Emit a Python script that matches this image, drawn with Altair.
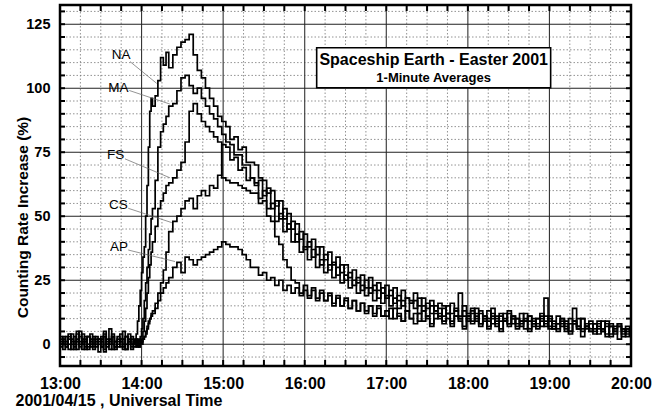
import altair as alt
import pandas as pd

# ---- time grid (minutes after 13:00 UT) ----
minutes = [
    0, 2, 4, 6, 8, 10, 12, 14, 16, 18, 20, 22, 24, 26, 28, 30, 32, 34, 36, 38, 40, 42, 44, 46, 48, 50, 52, 54,
    55, 56, 57, 58, 59, 60, 61, 62, 63, 64, 65, 66, 67, 68, 70, 72, 74, 76, 78, 80,
    83, 86, 89, 92, 95, 98, 101, 104, 107, 110, 113, 116, 119, 122, 125, 128, 131, 134, 137, 140,
    143, 146, 149, 152, 155, 158, 161, 164, 167, 170, 173, 176, 179, 182, 185, 188, 191, 194, 197, 200,
    203, 206, 209, 212, 215, 218, 221, 224, 227, 230, 233, 236,
    239, 242, 245, 248, 251, 254, 257, 260, 263, 266, 269, 272, 275, 278, 281, 284, 287, 290, 293, 296,
    299, 302, 305, 308, 311, 314, 317, 320, 323, 326, 329, 332, 335, 338, 341, 344, 347, 350, 353, 356,
    359, 362, 365, 368, 371, 374, 377, 380, 383, 386, 389, 392, 395, 398, 401, 404, 407, 410, 413, 416,
    419,
]

# ---- counting rate increase (%) for each station ----
NA = [
    1, -2, 3, 0, 4, -1, 2, 5, -2, 1, 3, -1, 2, 0, -3, 2, 4, -1, 1, 3, -2, 0, 2, -1, 3, 1, -2, 1,
    0, 4, 9, 15, 21, 28, 34, 38, 50, 62, 77, 91, 96, 93, 97, 103, 112, 109, 114, 108,
    113, 116, 118, 119, 121, 113, 107, 104, 100, 96, 93, 89, 87, 85, 80, 81, 76, 77, 71, 71,
    70, 65, 64, 59, 60, 54, 56, 49, 51, 45, 47, 41, 43, 38, 41, 35, 38, 33, 36, 31,
    34, 28, 31, 26, 29, 24, 27, 22, 26, 21, 24, 20,
    23, 19, 22, 17, 21, 18, 16, 20, 15, 18, 14, 17, 13, 16, 15, 12, 16, 13, 11, 15,
    12, 14, 10, 13, 11, 9, 14, 10, 12, 9, 13, 10, 8, 12, 9, 11, 7, 10, 12, 8,
    10, 7, 11, 8, 6, 10, 9, 6, 10, 7, 9, 5, 8, 6, 9, 4, 7, 8, 5, 7,
    5,
]
MA = [
    -1, 2, 0, 4, 1, 3, -2, 1, 4, -1, 0, 2, -2, 3, 1, -1, 5, 0, 2, -2, 1, 3, -1, 2, 0, 4, -1, 0,
    1, -1, 2, 1, 3, 6, 10, 17, 24, 30, 37, 43, 49, 53, 64, 77, 83, 86, 89, 93,
    94, 99, 104, 105, 101, 98, 100, 96, 93, 90, 88, 85, 82, 79, 78, 74, 74, 70, 70, 65,
    62, 64, 58, 61, 53, 56, 49, 53, 45, 48, 40, 44, 37, 40, 34, 38, 31, 35, 29, 32,
    27, 31, 25, 28, 23, 26, 21, 25, 20, 23, 18, 22,
    18, 21, 16, 19, 15, 18, 17, 14, 18, 13, 16, 12, 15, 14, 11, 15, 12, 14, 10, 13,
    11, 13, 9, 12, 10, 13, 8, 11, 9, 12, 8, 11, 10, 7, 12, 9, 10, 6, 9, 11,
    7, 9, 6, 10, 8, 5, 9, 7, 10, 6, 8, 6, 9, 5, 7, 8, 4, 7, 6, 3,
    6,
]
FS = [
    2, 0, -1, 3, -2, 1, 4, 0, 2, -2, 3, 1, -1, 2, 0, 3, -2, 1, 6, 0, -1, 2, 1, -2, 3, 0, 2, -1,
    -1, 1, 0, -1, 1, 2, 5, 9, 14, 20, 26, 31, 36, 40, 46, 53, 56, 59, 62, 63,
    65, 68, 71, 79, 91, 94, 90, 87, 85, 83, 81, 79, 65, 64, 63, 63, 62, 61, 60, 59,
    59, 55, 56, 50, 48, 42, 39, 33, 30, 25, 24, 20, 23, 19, 22, 18, 21, 17, 20, 16,
    19, 15, 18, 14, 17, 13, 16, 12, 15, 11, 14, 11,
    13, 10, 14, 11, 9, 13, 10, 12, 9, 13, 10, 8, 12, 11, 9, 12, 8, 11, 10, 7,
    11, 9, 12, 8, 10, 7, 11, 9, 6, 10, 8, 11, 7, 9, 10, 6, 9, 8, 11, 7,
    9, 6, 8, 10, 5, 8, 14, 7, 5, 8, 6, 4, 7, 5, 8, 3, 6, 7, 4, 6,
    3,
]
CS = [
    0, 3, 1, -2, 2, 0, 5, -1, 1, 3, -2, 4, 0, 1, 2, -1, 3, 0, -2, 4, 1, -1, 2, 5, -2, 1, 3, 0,
    0, 2, -1, 0, 1, 0, 2, 3, 5, 7, 9, 10, 12, 13, 16, 20, 24, 29, 36, 44,
    48, 50, 53, 56, 57, 53, 58, 60, 58, 62, 61, 66, 78, 77, 72, 73, 68, 69, 64, 65,
    63, 57, 60, 53, 55, 48, 51, 44, 47, 40, 43, 36, 38, 33, 37, 30, 33, 28, 31, 26,
    30, 24, 27, 22, 25, 20, 23, 19, 22, 17, 21, 16,
    19, 15, 18, 14, 17, 13, 16, 17, 12, 15, 11, 15, 13, 10, 14, 12, 9, 13, 20, 11,
    9, 12, 14, 8, 11, 10, 12, 7, 11, 9, 12, 8, 10, 9, 6, 11, 8, 10, 7, 9,
    11, 6, 8, 7, 9, 5, 8, 10, 6, 7, 5, 8, 6, 9, 4, 7, 5, 8, 3, 6,
    4,
]
AP = [
    3, 1, -1, 2, 0, -2, 1, 3, 0, 2, -1, 0, 3, -1, 2, 1, -3, 2, 0, 3, -1, 1, 4, 0, -2, 2, 0, 1,
    2, 0, 1, -1, 0, 1, 2, 3, 4, 6, 8, 10, 11, 12, 14, 17, 20, 22, 24, 26,
    30, 32, 28, 34, 33, 31, 33, 34, 35, 36, 37, 38, 40, 39, 38, 38, 37, 35, 33, 30,
    30, 27, 28, 25, 26, 23, 25, 21, 23, 20, 22, 19, 21, 18, 21, 17, 20, 17, 19, 15,
    18, 15, 17, 14, 17, 13, 16, 13, 15, 12, 15, 11,
    11, 14, 10, 12, 9, 13, 10, 8, 12, 9, 11, 7, 10, 12, 8, 10, 7, 11, 9, 6,
    10, 8, 11, 7, 9, 6, 10, 8, 5, 9, 7, 10, 6, 8, 9, 5, 8, 7, 10, 18,
    6, 8, 5, 9, 7, 4, 8, 6, 3, 7, 5, 8, 4, 6, 3, 7, 5, 2, 6, 4,
    3,
]

series_names = ["NA", "MA", "FS", "CS", "AP"]

# station labels and their leader lines (data coordinates)
label_t = [44.9, 42.9, 41.0, 42.9, 43.4]
label_v = [113.0, 100.0, 73.9, 54.4, 38.1]
leader_t1 = [51.5, 51.0, 47.8, 50.2, 50.2]
leader_v1 = [110.4, 99.1, 72.4, 53.1, 36.8]
leader_t2 = [71.1, 80.9, 80.9, 82.2, 84.6]
leader_v2 = [101.9, 93.8, 65.0, 47.5, 32.3]

# annotation box
box_t = [188.8, 360.9]
box_v = [100.2, 115.8]
box_lines = ["Spaceship Earth - Easter 2001", "1-Minute Averages"]
box_line_v = [109.1, 102.6]
box_line_size = [16, 13]

# axes
hour_ticks = [0, 60, 120, 180, 240, 300, 360, 420]
quarter_ticks = [0, 15, 30, 45, 60, 75, 90, 105, 120, 135, 150, 165, 180, 195, 210, 225, 240,
                 255, 270, 285, 300, 315, 330, 345, 360, 375, 390, 405, 420]
major_y = [0, 25, 50, 75, 100, 125]
five_y = [-5, 0, 5, 10, 15, 20, 25, 30, 35, 40, 45, 50, 55, 60, 65, 70, 75, 80, 85, 90, 95,
          100, 105, 110, 115, 120, 125, 130]

minor_x = [t for t in quarter_ticks if t not in hour_ticks]
minor_y = [v for v in five_y if v not in major_y]

rows = []
for name, vals in zip(series_names, [NA, MA, FS, CS, AP]):
    for t, v in zip(minutes, vals):
        rows.append({"t": t, "v": v, "series": name})
curves_df = pd.DataFrame(rows)

FONT = "Liberation Sans"
W, H = 571, 361
xs = alt.Scale(domain=[0, 420], nice=False, zero=False)
ys = alt.Scale(domain=[-8.5, 132.5], nice=False, zero=False)

x_axis = alt.Axis(
    values=hour_ticks,
    labelExpr="(13 + datum.value / 60) + ':00'",
    grid=False, ticks=False, domain=False,
    labelFont=FONT, labelFontSize=16, labelFontWeight="bold", labelColor="black",
    labelPadding=9, labelFlush=False, labelOverlap=False,
    title="2001/04/15 , Universal Time",
    titleFont=FONT, titleFontSize=16, titleFontWeight="bold", titleColor="black",
    titleX=-45, titleY=39, titleAlign="left", titleBaseline="alphabetic", titleAnchor="start",
)
y_axis = alt.Axis(
    values=major_y,
    grid=False, ticks=False, domain=False,
    labelFont=FONT, labelFontSize=14.5, labelFontWeight="bold", labelColor="black",
    labelPadding=10, labelFlush=False, labelOverlap=False,
    title="Counting Rate Increase (%)",
    titleFont=FONT, titleFontSize=15.5, titleFontWeight="bold", titleColor="black",
    titleX=-33, titleY=212, titleAngle=270, titleAlign="center", titleBaseline="alphabetic",
)


def X(field):
    return alt.X(field, scale=xs, axis=x_axis)


def Y(field):
    return alt.Y(field, scale=ys, axis=y_axis)


minor_vx = alt.Chart(pd.DataFrame({"t": minor_x})).mark_rule(
    color="#777", strokeWidth=0.8, strokeDash=[1.5, 2]
).encode(x=X("t:Q"))
minor_hy = alt.Chart(pd.DataFrame({"v": minor_y})).mark_rule(
    color="#777", strokeWidth=0.8, strokeDash=[1.5, 2]
).encode(y=Y("v:Q"))
major_vx = alt.Chart(pd.DataFrame({"t": hour_ticks})).mark_rule(
    color="#333", strokeWidth=1.1
).encode(x=X("t:Q"))
major_hy = alt.Chart(pd.DataFrame({"v": major_y})).mark_rule(
    color="#222", strokeWidth=1.1
).encode(y=Y("v:Q"))

curves = alt.Chart(curves_df).mark_line(
    interpolate="step-after", color="black", strokeWidth=1.7
).encode(
    x=X("t:Q"),
    y=Y("v:Q"),
    detail="series:N",
)

leaders = alt.Chart(pd.DataFrame({
    "t1": leader_t1, "v1": leader_v1, "t2": leader_t2, "v2": leader_v2
})).mark_rule(color="#666", strokeWidth=0.7).encode(
    x=X("t1:Q"), x2="t2:Q",
    y=Y("v1:Q"), y2="v2:Q",
)
labels = alt.Chart(pd.DataFrame({
    "name": series_names, "t": label_t, "v": label_v
})).mark_text(font=FONT, fontSize=13.5, color="black", align="center", baseline="middle").encode(
    x=X("t:Q"),
    y=Y("v:Q"),
    text="name:N",
)

box = alt.Chart(pd.DataFrame({
    "t1": [box_t[0]], "t2": [box_t[1]], "v1": [box_v[0]], "v2": [box_v[1]]
})).mark_rect(fill="white", stroke="black", strokeWidth=1.6).encode(
    x=X("t1:Q"), x2="t2:Q",
    y=Y("v1:Q"), y2="v2:Q",
)
box_text = alt.Chart(pd.DataFrame({
    "txt": box_lines, "v": box_line_v, "size": box_line_size,
    "t": [(box_t[0] + box_t[1]) / 2] * 2,
})).mark_text(font=FONT, fontWeight="bold", color="black", align="center", baseline="alphabetic").encode(
    x=X("t:Q"),
    y=Y("v:Q"),
    text="txt:N",
    size=alt.Size("size:Q", scale=None, legend=None),
)

qdf = pd.DataFrame({"t": quarter_ticks})
ydf = pd.DataFrame({"v": five_y})
tick_bottom = alt.Chart(qdf).mark_rule(color="black", strokeWidth=2).encode(
    x=X("t:Q"), y=alt.value(H - 6), y2=alt.value(H))
tick_top = alt.Chart(qdf).mark_rule(color="black", strokeWidth=2).encode(
    x=X("t:Q"), y=alt.value(0), y2=alt.value(6))
tick_right = alt.Chart(ydf).mark_rule(color="black", strokeWidth=2).encode(
    y=Y("v:Q"), x=alt.value(W - 5), x2=alt.value(W))
tick_left = alt.Chart(ydf).mark_rule(color="black", strokeWidth=2).encode(
    y=Y("v:Q"), x=alt.value(0), x2=alt.value(5))

frame = alt.Chart(pd.DataFrame({"k": [0]})).mark_rect(
    fillOpacity=0, stroke="black", strokeWidth=2.5
).encode(x=alt.value(0), x2=alt.value(W), y=alt.value(0), y2=alt.value(H))

chart = alt.layer(
    minor_vx, minor_hy, major_vx, major_hy, curves, leaders, labels,
    box, box_text, tick_bottom, tick_top, tick_right, tick_left, frame,
).properties(
    width=W, height=H,
    padding={"left": 60, "top": 5, "right": 34, "bottom": 47},
    autosize=alt.AutoSizeParams(type="none"),
    background="white",
).configure_view(stroke=None)

chart.save("out.html", embed_options={"renderer": "svg", "actions": False})
